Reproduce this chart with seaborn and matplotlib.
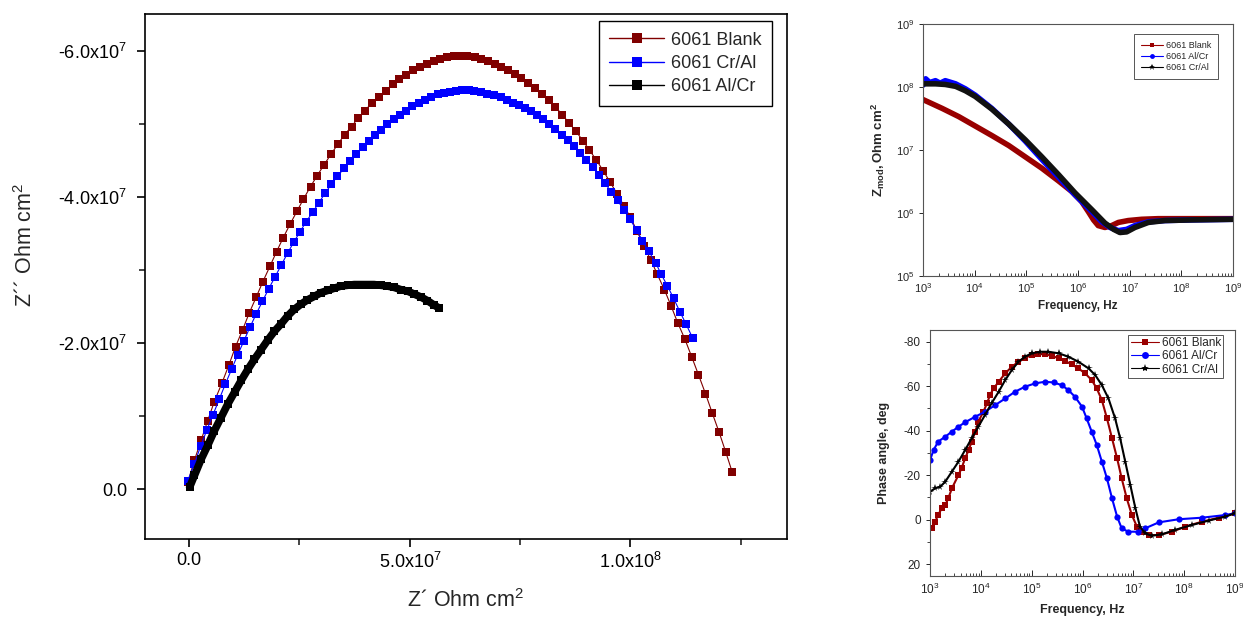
import numpy as np
import matplotlib
matplotlib.use("Agg")
import matplotlib.pyplot as plt
import seaborn as sns
from matplotlib.lines import Line2D
from matplotlib.ticker import FixedLocator, FuncFormatter, MultipleLocator, LogLocator, NullFormatter

# -------------------------
# Nyquist data (Z' and -Z'' in units of 1e7 Ohm cm2)
# -------------------------
blank_zre = [-0.03, 0.12, 0.27, 0.42, 0.57, 0.74, 0.90, 1.05, 1.21, 1.36, 1.52, 1.67, 1.83, 1.98,
             2.13, 2.29, 2.44, 2.59, 2.75, 2.90, 3.06, 3.21, 3.37, 3.52, 3.68, 3.83, 3.99, 4.14,
             4.30, 4.45, 4.61, 4.76, 4.92, 5.07, 5.23, 5.38, 5.54, 5.69, 5.84, 6.00, 6.15, 6.30,
             6.47, 6.62, 6.77, 6.92, 7.07, 7.22, 7.38, 7.53, 7.69, 7.84, 7.99, 8.15, 8.30, 8.46,
             8.61, 8.76, 8.92, 9.07, 9.22, 9.38, 9.54, 9.70, 9.85, 10.00, 10.15, 10.30, 10.46,
             10.61, 10.77, 10.92, 11.07, 11.23, 11.39, 11.54, 11.70, 11.85, 12.01, 12.16, 12.31]
blank_mzim = [0.10, 0.40, 0.67, 0.94, 1.20, 1.45, 1.70, 1.95, 2.18, 2.41, 2.63, 2.84, 3.05, 3.25,
              3.44, 3.63, 3.80, 3.97, 4.14, 4.29, 4.44, 4.58, 4.72, 4.85, 4.96, 5.08, 5.18, 5.29,
              5.37, 5.45, 5.54, 5.61, 5.67, 5.73, 5.78, 5.82, 5.86, 5.88, 5.91, 5.92, 5.93, 5.93,
              5.91, 5.88, 5.86, 5.82, 5.78, 5.74, 5.68, 5.63, 5.56, 5.49, 5.41, 5.32, 5.23, 5.12,
              5.01, 4.90, 4.77, 4.64, 4.51, 4.36, 4.20, 4.04, 3.88, 3.72, 3.53, 3.33, 3.14,
              2.94, 2.73, 2.51, 2.28, 2.06, 1.81, 1.57, 1.31, 1.05, 0.78, 0.51, 0.23]

cral_zre = [-0.03, 0.12, 0.26, 0.40, 0.54, 0.68, 0.82, 0.96, 1.10, 1.24, 1.38, 1.52, 1.66, 1.80,
            1.95, 2.09, 2.23, 2.37, 2.51, 2.65, 2.80, 2.94, 3.08, 3.22, 3.36, 3.51, 3.65, 3.79,
            3.93, 4.07, 4.22, 4.35, 4.49, 4.64, 4.77, 4.92, 5.06, 5.20, 5.34, 5.48, 5.63, 5.77,
            5.91, 6.05, 6.19, 6.34,
            6.46, 6.61, 6.76, 6.91, 7.06, 7.21, 7.35, 7.48, 7.62, 7.75, 7.89, 8.02, 8.15, 8.30,
            8.45, 8.58, 8.72, 8.86, 9.00, 9.15, 9.28, 9.42, 9.56, 9.71, 9.85, 9.99, 10.14,
            10.27, 10.41, 10.57, 10.69, 10.84, 10.98, 11.12, 11.26, 11.41]
cral_mzim = [0.12, 0.35, 0.59, 0.81, 1.02, 1.23, 1.44, 1.64, 1.84, 2.03, 2.22, 2.40, 2.57, 2.74,
             2.91, 3.07, 3.23, 3.38, 3.52, 3.66, 3.79, 3.92, 4.05, 4.17, 4.28, 4.39, 4.49, 4.59,
             4.68, 4.77, 4.85, 4.92, 4.99, 5.06, 5.12, 5.18, 5.24, 5.28, 5.33, 5.36, 5.40, 5.42,
             5.44, 5.45, 5.46, 5.46,
             5.45, 5.43, 5.41, 5.39, 5.36, 5.33, 5.29, 5.25, 5.21, 5.17, 5.12, 5.06, 5.00, 4.93,
             4.85, 4.78, 4.69, 4.60, 4.51, 4.41, 4.30, 4.19, 4.07, 3.95, 3.82, 3.69, 3.55,
             3.40, 3.26, 3.10, 2.95, 2.78, 2.61, 2.43, 2.26, 2.07]

alcr_zre = [0.01, 0.12, 0.27, 0.42, 0.57, 0.72, 0.87, 1.03, 1.18, 1.33, 1.48, 1.63, 1.78, 1.93,
            2.08, 2.23, 2.38, 2.53, 2.68, 2.84, 2.99, 3.14, 3.29, 3.44, 3.59, 3.74, 3.89, 4.04,
            4.19, 4.34, 4.49, 4.65, 4.80, 4.95, 5.10, 5.25, 5.40, 5.55, 5.66]
alcr_mzim = [0.03, 0.19, 0.41, 0.60, 0.80, 0.98, 1.16, 1.33, 1.49, 1.64, 1.78, 1.91, 2.04, 2.16,
             2.26, 2.37, 2.46, 2.53, 2.59, 2.64, 2.69, 2.72, 2.75, 2.78, 2.79, 2.80, 2.80, 2.80,
             2.80, 2.79, 2.78, 2.76, 2.73, 2.71, 2.67, 2.63, 2.58, 2.52, 2.48]

# -------------------------
# Bode |Z| data (log10 f, log10 |Z|)
# -------------------------
mod_blank_logf = [3.00, 3.37, 3.69, 4.01, 4.33, 4.66, 4.98, 5.30, 5.62, 5.88, 6.07, 6.20, 6.30,
                  6.39, 6.52, 6.65, 6.78, 6.97, 7.23, 7.55, 8.20, 9.00]
mod_blank_logz = [7.80, 7.66, 7.53, 7.38, 7.23, 7.07, 6.89, 6.71, 6.51, 6.34, 6.18, 6.02, 5.89,
                  5.80, 5.77, 5.80, 5.85, 5.88, 5.90, 5.91, 5.91, 5.91]
mod_alcr_logf = [3.00, 3.05, 3.13, 3.24, 3.33, 3.43, 3.63, 3.82, 4.01, 4.33, 4.66, 4.98, 5.30,
                 5.62, 5.94, 6.27, 6.46, 6.62, 6.78, 6.94, 7.10, 7.36, 7.68, 8.20, 9.00]
mod_alcr_logz = [8.03, 8.13, 8.07, 8.10, 8.06, 8.10, 8.05, 7.97, 7.87, 7.66, 7.41, 7.14, 6.85,
                 6.57, 6.29, 6.02, 5.86, 5.77, 5.72, 5.74, 5.80, 5.86, 5.88, 5.89, 5.90]
mod_cral_logf = [3.00, 3.24, 3.43, 3.63, 3.82, 4.01, 4.33, 4.66, 4.98, 5.30, 5.62, 5.94, 6.27,
                 6.52, 6.69, 6.81, 6.94, 7.10, 7.36, 7.68, 8.20, 9.00]
mod_cral_logz = [8.05, 8.05, 8.04, 8.01, 7.94, 7.85, 7.65, 7.41, 7.16, 6.89, 6.61, 6.32, 6.05,
                 5.84, 5.74, 5.69, 5.70, 5.77, 5.85, 5.88, 5.89, 5.90]

# -------------------------
# Bode phase data (log10 f, phase in deg)
# -------------------------
ph_blank_logf = [3.03, 3.10, 3.16, 3.23, 3.30, 3.36, 3.43, 3.56, 3.62, 3.69, 3.76, 3.82, 3.89,
                 3.95, 4.05, 4.12, 4.18, 4.25, 4.35, 4.48, 4.61, 4.74, 4.87, 5.00, 5.13, 5.26,
                 5.40, 5.53, 5.66, 5.79, 5.92, 6.05, 6.18, 6.28, 6.38, 6.48, 6.58, 6.68, 6.77,
                 6.87, 6.97, 7.07, 7.17, 7.30, 7.50, 7.76, 8.02, 8.35, 8.68, 9.00]
ph_blank = [3.9, 0.9, -2.1, -5.1, -6.6, -9.6, -14.1, -20.1, -23.1, -27.6, -31.3, -35.1, -39.6,
            -44.1, -48.5, -52.3, -56.0, -59.0, -62.0, -65.8, -68.8, -71.0, -72.8, -74.0, -74.5,
            -74.3, -73.7, -72.5, -71.3, -69.8, -68.0, -65.8, -62.8, -59.0, -53.8, -45.6, -36.6,
            -27.6, -18.6, -9.6, -2.1, 3.1, 5.4, 6.9, 6.9, 5.4, 3.1, 0.9, -0.9, -2.9]
ph_alcr_logf = [3.00, 3.07, 3.16, 3.30, 3.43, 3.56, 3.69, 3.89, 4.08, 4.28, 4.48, 4.67, 4.87,
                5.07, 5.26, 5.43, 5.59, 5.72, 5.85, 5.99, 6.08, 6.18, 6.28, 6.38, 6.48, 6.58,
                6.68, 6.77, 6.90, 7.10, 7.23, 7.50, 7.89, 8.35, 8.81, 9.00]
ph_alcr = [-26.8, -31.3, -35.1, -37.3, -39.6, -41.8, -43.8, -46.3, -48.5, -51.5, -54.5, -57.5,
           -59.8, -61.3, -62.0, -61.7, -60.5, -58.3, -55.3, -50.8, -45.6, -39.6, -33.6, -26.1,
           -18.6, -9.6, -1.4, 3.9, 5.4, 5.4, 3.9, 1.2, -0.2, -0.9, -2.1, -2.9]
ph_cral_logf = [3.00, 3.10, 3.20, 3.30, 3.43, 3.56, 3.69, 3.82, 3.95, 4.08, 4.21, 4.35, 4.48,
                4.61, 4.74, 4.87, 5.00, 5.17, 5.33, 5.53, 5.72, 5.92, 6.12, 6.25, 6.38, 6.51,
                6.64, 6.74, 6.84, 6.94, 7.04, 7.13, 7.23, 7.36, 7.56, 7.82, 8.15, 8.48, 8.81, 9.00]
ph_cral = [-12.6, -14.1, -14.8, -17.1, -21.6, -26.1, -31.3, -36.6, -41.8, -47.0, -52.3, -57.5,
           -62.8, -67.3, -71.0, -73.3, -74.8, -75.5, -75.5, -74.8, -73.3, -71.0, -68.0, -65.0,
           -60.5, -54.5, -45.6, -36.6, -26.1, -15.6, -5.1, 3.1, 6.1, 7.2, 6.6, 4.6, 2.4, 0.4,
           -1.4, -2.9]

RED = "#800000"
BLUE = "#0000ff"
BLACK = "#000000"

# -------------------------
# Style
# -------------------------
sns.set_style("ticks")
plt.rcParams["font.family"] = ["Liberation Sans", "DejaVu Sans"]
plt.rcParams["mathtext.fontset"] = "custom"
plt.rcParams["mathtext.rm"] = "Liberation Sans"
plt.rcParams["mathtext.it"] = "Liberation Sans:italic"
plt.rcParams["mathtext.bf"] = "Liberation Sans:bold"
plt.rcParams["axes.unicode_minus"] = False

fig = plt.figure(figsize=(12.43, 6.18), dpi=100)

# =========================
# Nyquist (left)
# =========================
ax = fig.add_axes([0.1167, 0.1278, 0.5165, 0.8495])

def e7(vals, sign=1.0):
    return sign * np.asarray(vals) * 1e7

sns.lineplot(x=e7(blank_zre), y=e7(blank_mzim, -1), ax=ax, sort=False, estimator=None,
             color=RED, linewidth=0.8, marker="s", markersize=5.8, markeredgewidth=0)
sns.lineplot(x=e7(cral_zre), y=e7(cral_mzim, -1), ax=ax, sort=False, estimator=None,
             color=BLUE, linewidth=0.8, marker="s", markersize=5.8, markeredgewidth=0)
sns.lineplot(x=e7(alcr_zre), y=e7(alcr_mzim, -1), ax=ax, sort=False, estimator=None,
             color=BLACK, linewidth=5.5, marker="s", markersize=6, markeredgewidth=0)

ax.set_xlim(-1.0e7, 1.355e8)
ax.set_ylim(0.68e7, -6.5e7)


def sci_fmt(v, pos):
    if abs(v) < 1:
        return "0.0"
    e = int(np.floor(np.log10(abs(v))))
    m = v / 10 ** e
    return f"{m:.1f}x10$^{{{e}}}$"


ax.xaxis.set_major_locator(FixedLocator([0, 5e7, 1e8]))
ax.xaxis.set_minor_locator(FixedLocator([2.5e7, 7.5e7, 1.25e8]))
ax.yaxis.set_major_locator(FixedLocator([0, -2e7, -4e7, -6e7]))
ax.yaxis.set_minor_locator(FixedLocator([-1e7, -3e7, -5e7]))
ax.xaxis.set_major_formatter(FuncFormatter(sci_fmt))
ax.yaxis.set_major_formatter(FuncFormatter(sci_fmt))
ax.tick_params(axis="both", which="major", direction="out", length=6, width=1.2,
               labelsize=13, colors="black")
ax.tick_params(axis="both", which="minor", direction="out", length=4, width=1.2)
ax.tick_params(axis="y", which="major", pad=7)
ax.tick_params(axis="x", which="major", pad=3)
for s in ax.spines.values():
    s.set_linewidth(1.2)
    s.set_color("black")

ax.set_xlabel("Z\u00b4 Ohm cm$^2$", fontsize=15.5)
ax.set_ylabel("Z\u00b4\u00b4 Ohm cm$^2$", fontsize=15.5)
ax.xaxis.set_label_coords(0.5, -0.095)
ax.yaxis.set_label_coords(-0.168, 0.56)

handles = [
    Line2D([], [], color=RED, lw=1, marker="s", ms=7, mew=0, label="6061 Blank"),
    Line2D([], [], color=BLUE, lw=1, marker="s", ms=7, mew=0, label="6061 Cr/Al"),
    Line2D([], [], color=BLACK, lw=1, marker="s", ms=7, mew=0, label="6061 Al/Cr"),
]
leg = ax.legend(handles=handles, loc="upper right", bbox_to_anchor=(0.977, 0.987),
                fontsize=13, frameon=True, fancybox=False, framealpha=1, edgecolor="black",
                handlelength=3.0, handletextpad=0.4, labelspacing=0.35, borderpad=0.6,
                borderaxespad=0)
leg.get_frame().set_linewidth(1.0)

# =========================
# Bode |Z| (top right)
# =========================
bx = fig.add_axes([0.7426, 0.5534, 0.2494, 0.4078])
sns.lineplot(x=10 ** np.asarray(mod_blank_logf), y=10 ** np.asarray(mod_blank_logz), ax=bx,
             sort=False, estimator=None, color="#990000", linewidth=4)
sns.lineplot(x=10 ** np.asarray(mod_alcr_logf), y=10 ** np.asarray(mod_alcr_logz), ax=bx,
             sort=False, estimator=None, color=BLUE, linewidth=4)
sns.lineplot(x=10 ** np.asarray(mod_cral_logf), y=10 ** np.asarray(mod_cral_logz), ax=bx,
             sort=False, estimator=None, color="#111111", linewidth=4)
bx.set_xscale("log")
bx.set_yscale("log")
bx.set_xlim(1e3, 1e9)
bx.set_ylim(1e5, 1e9)
bx.xaxis.set_major_locator(LogLocator(base=10, numticks=10))
bx.xaxis.set_minor_locator(LogLocator(base=10, subs=np.arange(2, 10), numticks=10))
bx.xaxis.set_minor_formatter(NullFormatter())
bx.yaxis.set_major_locator(LogLocator(base=10, numticks=10))
bx.yaxis.set_minor_locator(LogLocator(base=10, subs=np.arange(2, 10), numticks=10))
bx.yaxis.set_minor_formatter(NullFormatter())
bx.tick_params(axis="x", which="major", direction="in", length=4, width=0.7, labelsize=8, pad=4)
bx.tick_params(axis="x", which="minor", direction="in", length=2, width=0.6)
bx.tick_params(axis="y", which="major", direction="out", length=3, width=0.7, labelsize=8)
bx.tick_params(axis="y", which="minor", length=0)
for s in bx.spines.values():
    s.set_linewidth(0.8)
    s.set_color("#555555")
bx.set_xlabel("Frequency, Hz", fontsize=8.5, fontweight="bold", labelpad=3)
bx.set_ylabel(r"$\mathbf{Z_{mod}, Ohm\ cm^2}$", fontsize=9.5, labelpad=6)

bh = [
    Line2D([], [], color="#990000", lw=0.8, marker="s", ms=3.5, mew=0, label="6061 Blank"),
    Line2D([], [], color=BLUE, lw=0.8, marker="o", ms=3.5, mew=0, label="6061 Al/Cr"),
    Line2D([], [], color=BLACK, lw=0.8, marker="*", ms=4.5, mew=0, label="6061 Cr/Al"),
]
bleg = bx.legend(handles=bh, loc="upper right", bbox_to_anchor=(0.952, 0.96), fontsize=6.5,
                 frameon=True, fancybox=False, framealpha=1, edgecolor="#555555",
                 handlelength=2.4, handletextpad=0.3, labelspacing=0.2, borderpad=0.8,
                 borderaxespad=0)
bleg.get_frame().set_linewidth(0.7)

# =========================
# Bode phase (bottom right)
# =========================
px = fig.add_axes([0.7482, 0.0680, 0.2454, 0.3981])
sns.lineplot(x=10 ** np.asarray(ph_blank_logf), y=ph_blank, ax=px, sort=False, estimator=None,
             color="#990000", linewidth=1.5, marker="s", markersize=4.5, markeredgewidth=0)
sns.lineplot(x=10 ** np.asarray(ph_alcr_logf), y=ph_alcr, ax=px, sort=False, estimator=None,
             color=BLUE, linewidth=1.5, marker="o", markersize=4.5, markeredgewidth=0)
sns.lineplot(x=10 ** np.asarray(ph_cral_logf), y=ph_cral, ax=px, sort=False, estimator=None,
             color=BLACK, linewidth=1.5, marker="*", markersize=5.5, markeredgewidth=0)
px.set_xscale("log")
px.set_xlim(1e3, 1e9)
px.set_ylim(25.3, -85.3)
px.xaxis.set_major_locator(LogLocator(base=10, numticks=10))
px.xaxis.set_minor_locator(LogLocator(base=10, subs=np.arange(2, 10), numticks=10))
px.xaxis.set_minor_formatter(NullFormatter())
px.yaxis.set_major_locator(MultipleLocator(20))
px.yaxis.set_minor_locator(MultipleLocator(10))
px.tick_params(axis="x", which="major", direction="in", length=4, width=0.7, labelsize=8.5, pad=4)
px.tick_params(axis="x", which="minor", direction="in", length=2, width=0.6)
px.tick_params(axis="y", which="major", direction="out", length=3, width=0.7, labelsize=8.5)
px.tick_params(axis="y", which="minor", direction="out", length=2, width=0.6)
for s in px.spines.values():
    s.set_linewidth(0.8)
    s.set_color("#555555")
px.set_xlabel("Frequency, Hz", fontsize=9, fontweight="bold", labelpad=5)
px.set_ylabel("Phase angle, deg", fontsize=9, fontweight="bold", labelpad=10)

ph = [
    Line2D([], [], color="#990000", lw=0.8, marker="s", ms=5, mew=0, label="6061 Blank"),
    Line2D([], [], color=BLUE, lw=0.8, marker="o", ms=5, mew=0, label="6061 Al/Cr"),
    Line2D([], [], color=BLACK, lw=0.8, marker="*", ms=6, mew=0, label="6061 Cr/Al"),
]
pleg = px.legend(handles=ph, loc="upper right", bbox_to_anchor=(0.961, 0.98), fontsize=8.5,
                 frameon=True, fancybox=False, framealpha=1, edgecolor="#555555",
                 handlelength=2.4, handletextpad=0.2, labelspacing=0.1, borderpad=0.2,
                 borderaxespad=0)
pleg.get_frame().set_linewidth(0.7)

fig.savefig("out.png", dpi=100)
